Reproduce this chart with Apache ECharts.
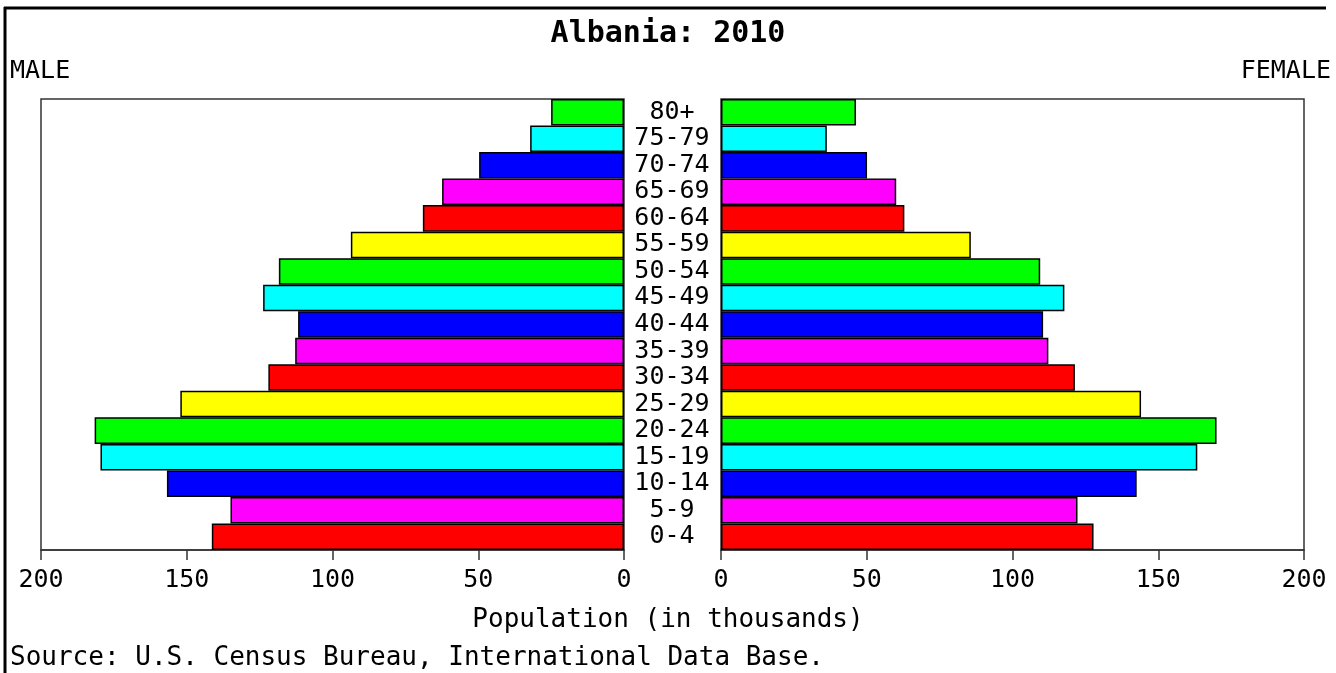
<!DOCTYPE html>
<html>
<head>
<meta charset="utf-8">
<script src="https://cdn.jsdelivr.net/npm/echarts@6/dist/echarts.min.js"></script>
<style>
html,body{margin:0;padding:0;background:#fff;}
#chart{width:1336px;height:673px;}
</style>
</head>
<body>
<div id="chart"></div>
<script>
// Data (bottom to top)
const ageGroups = ['0-4','5-9','10-14','15-19','20-24','25-29','30-34','35-39','40-44','45-49','50-54','55-59','60-64','65-69','70-74','75-79','80+'];
const maleValues = [141.4, 135.0, 156.8, 179.6, 181.6, 152.2, 122.0, 112.8, 111.8, 123.8, 118.4, 93.7, 69.0, 62.4, 49.7, 32.2, 25.0];
const femaleValues = [127.8, 122.3, 142.6, 163.4, 170.0, 144.1, 121.4, 112.3, 110.5, 117.8, 109.5, 85.7, 62.9, 60.1, 50.1, 36.3, 46.3];
const barColors = ['#ff0000','#ff00ff','#0000ff','#00ffff','#00ff00','#ffff00'];
const axisMin = 0, axisMax = 200, axisStep = 50;

const FONT = '"DejaVu Sans Mono", "Liberation Mono", monospace';
const chart = echarts.init(document.getElementById('chart'));

const gridTop = 99, gridH = 451, gridW = 583;
const commonX = {
  type: 'value', min: axisMin, max: axisMax, interval: axisStep,
  splitLine: {show: false},
  axisLine: {show: true, onZero: false, lineStyle: {color: '#333', width: 1.5}},
  axisTick: {show: true, inside: false, length: 10, lineStyle: {color: '#333', width: 1.5}},
  axisLabel: {color: '#000', fontFamily: FONT, fontSize: 25, margin: 18, showMinLabel: true, showMaxLabel: true}
};
const colorFn = p => barColors[p.dataIndex % barColors.length];

chart.setOption({
  animation: false,
  backgroundColor: '#fff',
  grid: [
    {left: 41, top: gridTop, width: gridW, height: gridH, show: true, borderColor: '#333', borderWidth: 1.5, backgroundColor: 'transparent'},
    {left: 721, top: gridTop, width: gridW, height: gridH, show: true, borderColor: '#333', borderWidth: 1.5, backgroundColor: 'transparent'}
  ],
  xAxis: [
    Object.assign({}, commonX, {gridIndex: 0, inverse: true}),
    Object.assign({}, commonX, {gridIndex: 1})
  ],
  yAxis: [
    {type: 'category', gridIndex: 0, data: ageGroups, axisLine: {show: false}, axisTick: {show: false}, axisLabel: {show: false}, splitLine: {show: false}},
    {type: 'category', gridIndex: 1, data: ageGroups, position: 'left', axisLine: {show: false}, axisTick: {show: false}, splitLine: {show: false},
     axisLabel: {show: true, color: '#000', fontFamily: FONT, fontSize: 25, align: 'center', margin: 49, interval: 0, padding: [4, 0, 0, 0]}}
  ],
  series: [
    {type: 'bar', xAxisIndex: 0, yAxisIndex: 0, data: maleValues, barCategoryGap: '0%',
     itemStyle: {color: colorFn, borderColor: '#000', borderWidth: 1.5}},
    {type: 'bar', xAxisIndex: 1, yAxisIndex: 1, data: femaleValues, barCategoryGap: '0%',
     itemStyle: {color: colorFn, borderColor: '#000', borderWidth: 1.5}}
  ],
  graphic: [
    {type: 'line', shape: {x1: 4, y1: 8, x2: 1326, y2: 8}, style: {stroke: '#000', lineWidth: 3}},
    {type: 'line', shape: {x1: 5, y1: 7, x2: 5, y2: 673}, style: {stroke: '#000', lineWidth: 3}},
    {type: 'text', left: 'center', top: 19, style: {text: 'Albania: 2010', font: 'bold 30px ' + FONT, fill: '#000'}},
    {type: 'text', x: 10, y: 71, style: {text: 'MALE', font: '25px ' + FONT, fill: '#000', verticalAlign: 'middle'}},
    {type: 'text', x: 1331, y: 71, style: {text: 'FEMALE', font: '25px ' + FONT, fill: '#000', align: 'right', verticalAlign: 'middle'}},
    {type: 'text', x: 668, y: 620, style: {text: 'Population (in thousands)', font: '26px ' + FONT, fill: '#000', align: 'center', verticalAlign: 'middle'}},
    {type: 'text', x: 10, y: 658, style: {text: 'Source: U.S. Census Bureau, International Data Base.', font: '26px ' + FONT, fill: '#000', verticalAlign: 'middle'}}
  ]
});
</script>
</body>
</html>
